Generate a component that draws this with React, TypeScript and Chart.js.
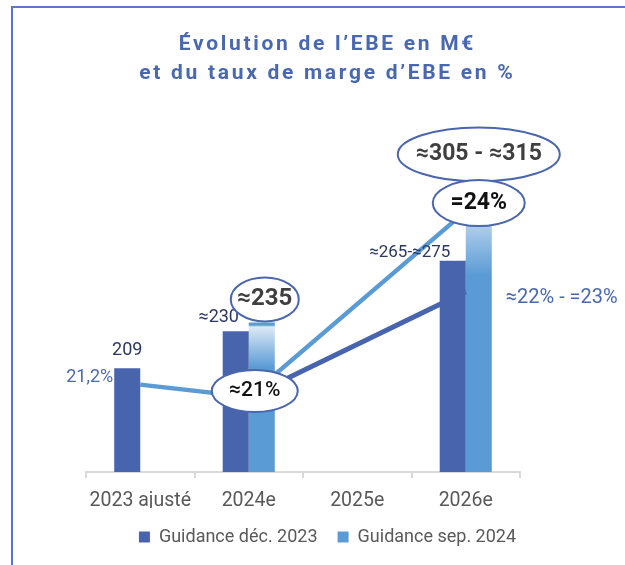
import React, { useEffect, useRef } from "react";
import { Chart, registerables } from "chart.js";

Chart.register(...registerables);

// ---- data ----
const categories = ["2023 ajusté", "2024e", "2025e", "2026e"];
const seriesNames = ["Guidance déc. 2023", "Guidance sep. 2024"];
const ebeDec2023 = [209, 230, null, 270];
const ebeSep2024 = [null, 235, null, 310];
const margeDec2023 = [null, 21, null, 22.7];
const margeSep2024 = [21.2, 21, null, 24];
const titleLines = ["Évolution de l’EBE en M€", "et du taux de marge d’EBE en %"];

// annotation texts, anchored to marks (dataset index, category index)
const annotationTexts = ["209", "≈230", "≈265-≈275", "≈235", "≈305 - ≈315", "=24%", "≈21%", "21,2%", "≈22% - =23%"];

const DARK = "#4864AD";
const LIGHT = "#5B9BD5";
const NAVY = "#2B3764";
const BLUE_TXT = "#4A68B0";
const FONT = "Roboto, 'Noto Sans', sans-serif";

type Ann = {
  text: string; ds: number; idx: number; dx: number; dy: number;
  size: number; weight: string; color: string; align?: CanvasTextAlign;
  ellipse?: [number, number];
};

const annotations: Ann[] = [
  { text: annotationTexts[0], ds: 0, idx: 0, dx: 0, dy: -18, size: 18, weight: "normal", color: NAVY },
  { text: annotationTexts[1], ds: 0, idx: 1, dx: -17, dy: -14, size: 18, weight: "normal", color: NAVY },
  { text: annotationTexts[2], ds: 0, idx: 3, dx: -43, dy: -8, size: 17, weight: "normal", color: NAVY },
  { text: annotationTexts[3], ds: 1, idx: 1, dx: 3, dy: -23, size: 24, weight: "bold", color: "#3F3F3F", ellipse: [34, 22] },
  { text: annotationTexts[4], ds: 1, idx: 3, dx: 0, dy: -36, size: 23, weight: "bold", color: "#3F3F3F", ellipse: [81, 27] },
  { text: annotationTexts[5], ds: 3, idx: 3, dx: 13, dy: -8, size: 23, weight: "bold", color: "#111111", ellipse: [46, 23] },
  { text: annotationTexts[6], ds: 3, idx: 1, dx: 6, dy: -6, size: 21, weight: "500", color: "#111111", ellipse: [43, 21] },
  { text: annotationTexts[7], ds: 3, idx: 0, dx: -27, dy: -7, size: 18, weight: "normal", color: BLUE_TXT, align: "right" },
  { text: annotationTexts[8], ds: 2, idx: 3, dx: 96, dy: 6, size: 20, weight: "normal", color: BLUE_TXT },
];

const framePlugin = {
  id: "frame",
  beforeDraw(chart: any) {
    const ctx = chart.ctx;
    ctx.save();
    ctx.strokeStyle = "#5A7AC0";
    ctx.lineWidth = 2;
    ctx.beginPath();
    ctx.moveTo(12, chart.height);
    ctx.lineTo(12, 7);
    ctx.lineTo(chart.width, 7);
    ctx.stroke();
    // title (DIN-like tracking)
    ctx.font = `bold 21px ${FONT}`;
    ctx.fillStyle = BLUE_TXT;
    ctx.textAlign = "center";
    ctx.textBaseline = "alphabetic";
    const ls = 2.7;
    try { (ctx as any).letterSpacing = ls + "px"; } catch (e) {}
    const cx = 326 + ls / 2;
    ctx.fillText(titleLines[0], cx, 50);
    ctx.fillText(titleLines[1], cx, 79);
    try { (ctx as any).letterSpacing = "0px"; } catch (e) {}
    ctx.restore();
  },
};

const annotationPlugin = {
  id: "annotations",
  afterDatasetsDraw(chart: any) {
    const ctx = chart.ctx;
    ctx.save();
    annotations.forEach((a) => {
      const el = chart.getDatasetMeta(a.ds).data[a.idx];
      if (!el) return;
      const cx = el.x + a.dx;
      const cy = el.y + a.dy;
      if (a.ellipse) {
        ctx.beginPath();
        ctx.ellipse(cx, cy, a.ellipse[0], a.ellipse[1], 0, 0, Math.PI * 2);
        ctx.fillStyle = "#FFFFFF";
        ctx.fill();
        ctx.lineWidth = 2;
        ctx.strokeStyle = "#4A66AC";
        ctx.stroke();
      }
      ctx.font = `${a.weight} ${a.size}px ${FONT}`;
      ctx.fillStyle = a.color;
      ctx.textAlign = a.align || "center";
      ctx.textBaseline = "middle";
      ctx.fillText(a.text, cx, cy);
    });
    ctx.restore();
  },
};

function lightBarColor(c: any) {
  if (c.type !== "data" || c.raw == null) return LIGHT;
  const chart = c.chart;
  const area = chart.chartArea;
  const scale = chart.scales && chart.scales.y;
  if (!area || !scale) return LIGHT;
  const top = scale.getPixelForValue(c.raw);
  const h = area.bottom - top;
  const g = chart.ctx.createLinearGradient(0, top, 0, top + h * 0.3);
  g.addColorStop(0, LIGHT);
  g.addColorStop(0.06, LIGHT);
  g.addColorStop(0.1, "#DCE9F6");
  g.addColorStop(1, LIGHT);
  return g;
}

export default function App() {
  const ref = useRef<HTMLCanvasElement | null>(null);
  useEffect(() => {
    if (!ref.current) return;
    const chart = new Chart(ref.current, {
      type: "bar",
      data: {
        labels: categories,
        datasets: [
          { type: "bar", label: seriesNames[0], data: ebeDec2023, backgroundColor: DARK, yAxisID: "y", order: 1 } as any,
          { type: "bar", label: seriesNames[1], data: ebeSep2024, backgroundColor: lightBarColor, yAxisID: "y", order: 1 } as any,
          { type: "line", label: "Marge " + seriesNames[0], data: margeDec2023, borderColor: DARK, borderWidth: 5, pointRadius: 0, spanGaps: true, yAxisID: "y2", order: 0 } as any,
          { type: "line", label: "Marge " + seriesNames[1], data: margeSep2024, borderColor: LIGHT, borderWidth: 4.5, pointRadius: 0, spanGaps: true, yAxisID: "y2", order: 0 } as any,
        ],
      },
      options: {
        animation: false,
        responsive: false,
        maintainAspectRatio: false,
        layout: { padding: { left: 30, right: 0, top: 120, bottom: 9 } },
        datasets: { bar: { categoryPercentage: 0.48, barPercentage: 1 } } as any,
        scales: {
          x: {
            offset: true,
            grid: { display: true, drawOnChartArea: false, drawTicks: true, tickLength: 6, color: "#D9D9D9", lineWidth: 2, offset: true },
            border: { display: true, color: "#D9D9D9", width: 2 },
            ticks: { color: "#595959", font: { family: FONT, size: 19.5, lineHeight: 1.0 }, padding: 13, maxRotation: 0 },
            afterFit: (s: any) => { s.height = 36; },
          },
          y: {
            position: "left",
            min: 150,
            max: 350,
            ticks: { display: false },
            grid: { display: false },
            border: { display: false },
            afterFit: (s: any) => { s.width = 56; },
          },
          y2: {
            position: "right",
            min: 19.79,
            max: 25.47,
            ticks: { display: false },
            grid: { display: false },
            border: { display: false },
            afterFit: (s: any) => { s.width = 105; },
          },
        },
        plugins: {
          title: { display: false },
          legend: {
            display: true,
            position: "bottom",
            labels: {
              color: "#595959",
              font: { family: FONT, size: 18 },
              boxWidth: 11,
              boxHeight: 11,
              padding: 20,
              filter: (item: any) => item.datasetIndex < 2,
            },
          },
          tooltip: { enabled: false },
        },
      },
      plugins: [framePlugin, annotationPlugin],
    });
    return () => chart.destroy();
  }, []);
  return (
    <div style={{ position: "absolute", left: 0, top: 0, width: 625, height: 565, background: "#fff" }}>
      <canvas ref={ref} width={625} height={565} style={{ width: 625, height: 565, display: "block" }} />
    </div>
  );
}
